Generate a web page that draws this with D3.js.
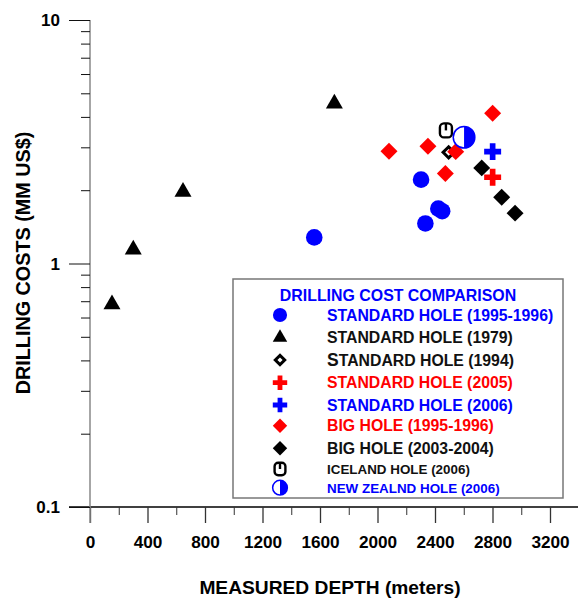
<!DOCTYPE html>
<html>
<head>
<meta charset="utf-8">
<script src="https://cdn.jsdelivr.net/npm/d3@7"></script>
<style>
  body { margin: 0; background: #fff; }
  text { font-family: "Liberation Sans", Arial, sans-serif; font-weight: bold; }
</style>
</head>
<body>
<svg id="chart" width="581" height="599"></svg>
<script>
// values (depth in meters, cost in MM US$)
const std9596Depth = [1560, 2303, 2333, 2423, 2450];
const std9596Cost  = [1.28, 2.21, 1.46, 1.68, 1.64];

const std1979Depth = [153, 301, 647, 1700];
const std1979Cost  = [0.68, 1.14, 1.97, 4.54];

const std1994Depth = [2495];
const std1994Cost  = [2.86];

const std2005Depth = [2801];
const std2005Cost  = [2.26];

const std2006Depth = [2801];
const std2006Cost  = [2.88];

const big9596Depth = [2080, 2351, 2472, 2544, 2801];
const big9596Cost  = [2.89, 3.03, 2.34, 2.88, 4.14];

const big0304Depth = [2725, 2864, 2957];
const big0304Cost  = [2.47, 1.87, 1.61];

const icelandDepth = [2476];
const icelandCost  = [3.52];

const nzDepth = [2602];
const nzCost  = [3.3];

const xTicks = [0, 400, 800, 1200, 1600, 2000, 2400, 2800, 3200];
const xMinorTicks = [200, 600, 1000, 1400, 1800, 2200, 2600, 3000];
const yTicks = [0.1, 1, 10];
const yTickLabels = ["0.1", "1", "10"];
const yMinorTicks = [0.2, 0.3, 0.4, 0.5, 0.6, 0.7, 0.8, 0.9, 2, 3, 4, 5, 6, 7, 8, 9];

const legendTitle = "DRILLING COST COMPARISON";
const legendLabels = [
  "STANDARD HOLE (1995-1996)",
  "STANDARD HOLE (1979)",
  "STANDARD HOLE (1994)",
  "STANDARD HOLE (2005)",
  "STANDARD HOLE (2006)",
  "BIG HOLE (1995-1996)",
  "BIG HOLE (2003-2004)",
  "ICELAND HOLE (2006)",
  "NEW ZEALND HOLE (2006)"
];

const BLUE = "#0000ff", RED = "#ff0000", BLACK = "#000";

// series: legend order, z = drawing order on the plot
const series = [
  {kind: "circle",   color: BLUE,  depth: std9596Depth, cost: std9596Cost, z: 0},
  {kind: "triangle", color: BLACK, depth: std1979Depth, cost: std1979Cost, z: 1},
  {kind: "open",     color: BLACK, depth: std1994Depth, cost: std1994Cost, z: 2},
  {kind: "cross",    color: RED,   depth: std2005Depth, cost: std2005Cost, z: 5},
  {kind: "cross",    color: BLUE,  depth: std2006Depth, cost: std2006Cost, z: 6},
  {kind: "diamond",  color: RED,   depth: big9596Depth, cost: big9596Cost, z: 3},
  {kind: "diamond",  color: BLACK, depth: big0304Depth, cost: big0304Cost, z: 4},
  {kind: "iceland",  color: BLACK, depth: icelandDepth, cost: icelandCost, z: 7},
  {kind: "nz",       color: BLUE,  depth: nzDepth,      cost: nzCost,      z: 8}
];
series.forEach((s, i) => s.label = legendLabels[i]);

const svg = d3.select("#chart");

const x = d3.scaleLinear().domain([0, 3200]).range([90, 550]);
const y = d3.scaleLog().domain([0.1, 10]).range([507, 20]);

// ---- axes ----
svg.append("line")
  .attr("x1", 69).attr("x2", 578).attr("y1", 507).attr("y2", 507)
  .attr("stroke", "#000").attr("stroke-width", 1.5);

const xMinor = svg.append("g")
  .attr("transform", "translate(0,507)")
  .attr("color", "#333")
  .call(d3.axisBottom(x).tickValues(xMinorTicks).tickSize(8).tickFormat(""));
xMinor.select(".domain").remove();

const xAxis = svg.append("g")
  .attr("transform", "translate(0,507)")
  .attr("color", "#333")
  .call(d3.axisBottom(x).tickValues(xTicks).tickSize(16).tickSizeOuter(0)
    .tickFormat(d3.format("d")));
xAxis.select(".domain").remove();
xAxis.selectAll("line").attr("stroke-width", 1.3);
xAxis.selectAll("text")
  .attr("y", 41).attr("dy", 0)
  .attr("font-size", 17.2).attr("fill", "#000");

svg.append("line")
  .attr("x1", 90).attr("x2", 90).attr("y1", 20).attr("y2", 523)
  .attr("stroke", "#888").attr("stroke-width", 1.5);

const yMinor = svg.append("g")
  .attr("transform", "translate(90,0)")
  .attr("color", "#111")
  .call(d3.axisLeft(y).tickValues(yMinorTicks).tickSize(9).tickFormat(""));
yMinor.select(".domain").remove();

const yAxis = svg.append("g")
  .attr("transform", "translate(90,0)")
  .attr("color", "#111")
  .call(d3.axisLeft(y).tickValues(yTicks).tickSize(21).tickSizeOuter(0)
    .tickFormat((d, i) => yTickLabels[i]));
yAxis.select(".domain").remove();
yAxis.selectAll("text")
  .attr("x", -30).attr("dy", "0.34em")
  .attr("font-size", 17).attr("fill", "#000");

svg.append("text")
  .attr("x", 330).attr("y", 594)
  .attr("text-anchor", "middle")
  .attr("font-size", 19.2)
  .text("MEASURED DEPTH (meters)");

svg.append("text")
  .attr("transform", "translate(30,263) rotate(-90)")
  .attr("text-anchor", "middle")
  .attr("font-size", 19.8)
  .text("DRILLING COSTS (MM US$)");

// ---- marks ----
function drawMark(g, kind, color, k) {
  if (kind === "circle") {
    g.append("path").attr("d", d3.symbol(d3.symbolCircle, 216 * k * k)()).attr("fill", color);
  } else if (kind === "triangle") {
    g.append("path").attr("d", d3.symbol(d3.symbolTriangle, 125 * k * k)()).attr("fill", color);
  } else if (kind === "diamond") {
    g.append("path").attr("d", d3.symbol(d3.symbolSquare, 144 * k * k)())
      .attr("transform", "rotate(45)").attr("fill", color);
  } else if (kind === "open") {
    g.append("path").attr("d", d3.symbol(d3.symbolSquare, 62 * k * k)())
      .attr("transform", "rotate(45)")
      .attr("fill", "#fff").attr("stroke", color).attr("stroke-width", 3);
  } else if (kind === "cross") {
    g.append("path").attr("d", d3.symbol(d3.symbolCross, 160 * k * k)()).attr("fill", color);
  } else if (kind === "iceland") {
    const w = 12 * k, h = 14 * k;
    g.append("rect")
      .attr("x", -w / 2).attr("y", -h / 2).attr("width", w).attr("height", h)
      .attr("rx", 4 * k)
      .attr("fill", "#fff").attr("stroke", color).attr("stroke-width", 2.4);
    g.append("line")
      .attr("x1", 0).attr("x2", 0).attr("y1", -h / 2).attr("y2", 0)
      .attr("stroke", color).attr("stroke-width", 2.4);
  } else if (kind === "nz") {
    const r = 10.8 * k;
    g.append("circle").attr("r", r).attr("fill", "#fff")
      .attr("stroke", color).attr("stroke-width", 1.5);
    g.append("path")
      .attr("d", `M0,${-r}A${r},${r} 0 0 1 0,${r}Z`)
      .attr("fill", color);
  }
}

const plot = svg.append("g").attr("class", "marks");
series.slice().sort((a, b) => a.z - b.z).forEach(s => {
  s.depth.forEach((d, i) => {
    const g = plot.append("g")
      .attr("transform", `translate(${x(d)},${y(s.cost[i])})`);
    drawMark(g, s.kind, s.color, 1);
  });
});

// ---- legend ----
const legend = svg.append("g").attr("class", "legend");
legend.append("rect")
  .attr("x", 233).attr("y", 279).attr("width", 330).attr("height", 219)
  .attr("fill", "#fff").attr("stroke", "#777").attr("stroke-width", 1.5);
legend.append("text")
  .attr("x", 398).attr("y", 300.5)
  .attr("text-anchor", "middle")
  .attr("font-size", 15.9).attr("fill", BLUE)
  .text(legendTitle);

const rowY = [315, 337.7, 360, 382.7, 405, 425.7, 448.3, 469, 487.7];
series.forEach((s, i) => {
  const g = legend.append("g").attr("transform", `translate(280,${rowY[i]})`);
  const k = s.kind === "nz" ? 0.68 : (s.kind === "iceland" ? 0.9 : 0.85);
  drawMark(g, s.kind, s.color, k);
  const small = i >= 7;
  const t = legend.append("text")
    .attr("x", 327).attr("y", rowY[i] + (small ? 4.8 : 5.6))
    .attr("font-size", small ? 13.4 : 15.8)
    .attr("fill", s.color === BLACK ? "#111" : s.color);
  if (i === 2) {
    t.append("tspan").attr("font-size", 17.5).text(s.label[0]);
    t.append("tspan").text(s.label.slice(1));
  } else {
    t.text(s.label);
  }
});
</script>
</body>
</html>
